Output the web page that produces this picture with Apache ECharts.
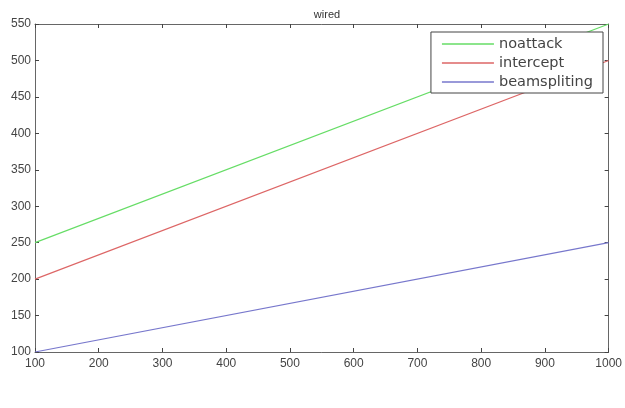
<!DOCTYPE html>
<html>
<head>
<meta charset="utf-8">
<script src="https://cdn.jsdelivr.net/npm/echarts@6/dist/echarts.min.js"></script>
<style>html,body{margin:0;padding:0;background:#fff;}#c{width:625px;height:408px;}</style>
</head>
<body>
<div id="c"></div>
<script>
var xValues = [100, 1000];
var noattack = [250, 550];
var intercept = [200, 500];
var beamspliting = [100, 250];
var seriesNames = ['noattack', 'intercept', 'beamspliting'];
var colors = ['#66dd66', '#dd6666', '#7777cc'];

function pairs(ys) { return xValues.map(function (x, i) { return [x, ys[i]]; }); }

var chart = echarts.init(document.getElementById('c'));
var lbl = { color: '#444', fontSize: 12, fontFamily: 'Liberation Sans, Arial, sans-serif' };
var axLine = { show: true, lineStyle: { color: '#666', width: 1 } };
var tick = { show: true, inside: true, length: 4, lineStyle: { color: '#444' } };
chart.setOption({
  animation: false,
  title: { text: 'wired', left: 322, top: 4, textAlign: 'center',
    textStyle: { fontSize: 11, fontWeight: 'normal', color: '#333', fontFamily: 'Liberation Sans, Arial, sans-serif' } },
  grid: { left: 35, right: 15, top: 24, bottom: 56 },
  legend: {
    orient: 'vertical', right: 22, top: 32, data: seriesNames,
    backgroundColor: '#fff', borderColor: '#444', borderWidth: 1,
    padding: [4, 10, 3, 11], itemGap: 3, itemWidth: 52, itemHeight: 1.5, icon: 'rect',
    textStyle: { fontSize: 14.5, lineHeight: 16, color: '#444', fontFamily: 'DejaVu Sans, sans-serif' }
  },
  xAxis: [
    { type: 'value', min: 100, max: 1000, interval: 100, axisLine: axLine, axisTick: tick,
      axisLabel: Object.assign({ margin: 6, formatter: function (v) { return String(v); } }, lbl), splitLine: { show: false } },
    { type: 'value', position: 'top', min: 100, max: 1000, interval: 100, axisLine: axLine, axisTick: tick,
      axisLabel: { show: false }, splitLine: { show: false } }
  ],
  yAxis: [
    { type: 'value', min: 100, max: 550, interval: 50, axisLine: axLine, axisTick: tick,
      axisLabel: Object.assign({ margin: 4 }, lbl), splitLine: { show: false } },
    { type: 'value', position: 'right', min: 100, max: 550, interval: 50, axisLine: axLine, axisTick: tick,
      axisLabel: { show: false }, splitLine: { show: false } }
  ],
  series: [noattack, intercept, beamspliting].map(function (d, i) {
    return { name: seriesNames[i], type: 'line', data: pairs(d), showSymbol: false,
      lineStyle: { color: colors[i], width: 1.2 }, itemStyle: { color: colors[i] } };
  })
});
</script>
</body>
</html>
